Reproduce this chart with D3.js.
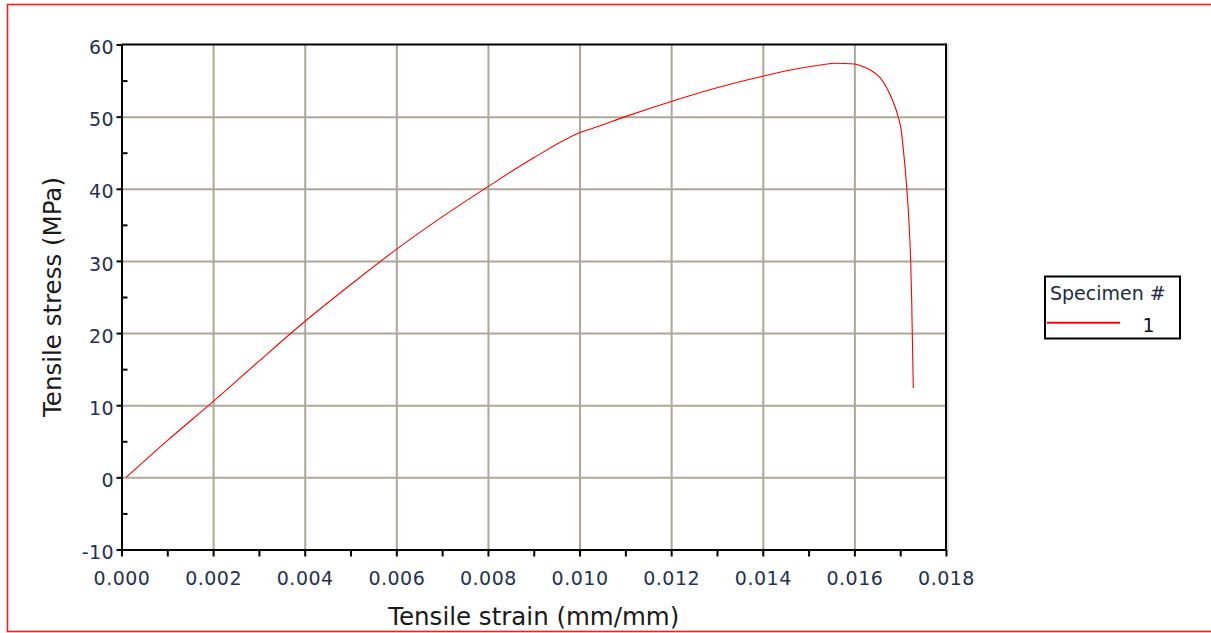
<!DOCTYPE html>
<html>
<head>
<meta charset="utf-8">
<script src="https://cdn.jsdelivr.net/npm/d3@7"></script>
<style>
  html, body { margin: 0; padding: 0; background: #fff; }
  svg { display: block; font-family: "DejaVu Sans", Verdana, sans-serif; }
</style>
</head>
<body>
<svg id="chart" width="1211" height="633"></svg>
<script>
// Tensile test, specimen 1: strain (mm/mm) vs stress (MPa)
const strain = [
  0.0001, 0.0010, 0.0020, 0.0030, 0.0040, 0.0050, 0.0060, 0.0070, 0.0080, 0.0090,
  0.0101, 0.01025, 0.0110, 0.0120, 0.0130, 0.0140, 0.0148, 0.0153, 0.0156, 0.0160,
  0.01620, 0.01634, 0.01656, 0.01673, 0.01683, 0.01696, 0.01702, 0.01707, 0.017142, 0.017192,
  0.017229, 0.017251, 0.017264, 0.017286
];
const stress = [
  0.0, 5.1, 10.5, 16.1, 21.6, 26.7, 31.6, 36.1, 40.3, 44.3,
  48.0, 48.3, 50.0, 52.1, 54.0, 55.6, 56.7, 57.2, 57.4, 57.3,
  56.9, 56.5, 55.4, 53.7, 52.3, 49.9, 48.2, 45.4, 40.2, 35.4,
  30.0, 24.6, 19.9, 12.4
];

const xMajorTicks = [0, 0.002, 0.004, 0.006, 0.008, 0.010, 0.012, 0.014, 0.016, 0.018];
const xMinorTicks = [0.001, 0.003, 0.005, 0.007, 0.009, 0.011, 0.013, 0.015, 0.017];
const yMajorTicks = [-10, 0, 10, 20, 30, 40, 50, 60];
const yMinorTicks = [-5, 5, 15, 25, 35, 45, 55];

const xTitle = "Tensile strain (mm/mm)";
const yTitle = "Tensile stress (MPa)";
const legendTitle = "Specimen #";
const seriesNames = ["1"];

const svg = d3.select("#chart");
const plotLeft = 121.5, plotRight = 946, plotTop = 44.5, plotBottom = 549.5;

const x = d3.scaleLinear().domain([0, 0.018]).range([plotLeft, plotRight]);
const y = d3.scaleLinear().domain([-10, 60]).range([plotBottom, plotTop]);

const gridColor = "#aca899";
const tickColor = "#24314f";

// outer red frame
svg.append("rect")
  .attr("x", 7.5).attr("y", 4.5)
  .attr("width", 1212).attr("height", 627)
  .attr("fill", "none").attr("stroke", "#ff1a1a").attr("stroke-width", 1.6);

// grid
svg.append("g")
  .attr("transform", `translate(0,${plotBottom})`)
  .call(d3.axisBottom(x).tickValues(xMajorTicks.slice(1, -1)).tickSize(-(plotBottom - plotTop)).tickFormat(""))
  .call(g => g.select(".domain").remove())
  .call(g => g.selectAll("line").attr("stroke", gridColor).attr("stroke-width", 2));
svg.append("g")
  .attr("transform", `translate(${plotLeft},0)`)
  .call(d3.axisLeft(y).tickValues(yMajorTicks.slice(1, -1)).tickSize(-(plotRight - plotLeft)).tickFormat(""))
  .call(g => g.select(".domain").remove())
  .call(g => g.selectAll("line").attr("stroke", gridColor).attr("stroke-width", 2));

// top and right frame edges
svg.append("line").attr("x1", plotLeft).attr("x2", plotRight + 1).attr("y1", plotTop).attr("y2", plotTop)
  .attr("stroke", "#000").attr("stroke-width", 2);
svg.append("line").attr("x1", plotRight + 2).attr("x2", plotRight + 2).attr("y1", plotTop).attr("y2", plotBottom)
  .attr("stroke", "#c8c8c8").attr("stroke-width", 1);
svg.append("line").attr("x1", plotRight).attr("x2", plotRight).attr("y1", plotTop - 1).attr("y2", plotBottom)
  .attr("stroke", "#000").attr("stroke-width", 2);

// curve
const pts = strain.map((s, i) => [s, stress[i]]);
svg.append("path")
  .datum(pts)
  .attr("fill", "none")
  .attr("stroke", "#ff0000")
  .attr("stroke-width", 1.1)
  .attr("stroke-linejoin", "round")
  .attr("d", d3.line().x(d => x(d[0])).y(d => y(d[1])).curve(d3.curveMonotoneX));

// x axis
svg.append("g").attr("transform", `translate(0,${plotBottom})`)
  .call(d3.axisBottom(x).tickValues(xMinorTicks).tickSizeInner(7).tickSizeOuter(0).tickFormat(""))
  .call(g => g.select(".domain").remove())
  .call(g => g.selectAll("line").attr("stroke", "#000").attr("stroke-width", 2));
const xMajor = svg.append("g").attr("transform", `translate(0,${plotBottom})`)
  .call(d3.axisBottom(x).tickValues(xMajorTicks).tickSizeInner(7).tickSizeOuter(0)
    .tickPadding(15).tickFormat(d3.format(".3f")));
xMajor.select(".domain").attr("stroke", "#000").attr("stroke-width", 2);
xMajor.selectAll("line").attr("stroke", "#000").attr("stroke-width", 2);
xMajor.selectAll("text").attr("fill", tickColor).attr("font-size", 19)
  .attr("letter-spacing", 0.5).attr("font-family", "DejaVu Sans");

// y axis
svg.append("g").attr("transform", `translate(${plotLeft},0)`)
  .call(d3.axisRight(y).tickValues(yMinorTicks).tickSizeInner(6).tickSizeOuter(0).tickFormat(""))
  .call(g => g.select(".domain").remove())
  .call(g => g.selectAll("line").attr("stroke", "#000").attr("stroke-width", 2));
const yMajor = svg.append("g").attr("transform", `translate(${plotLeft},0)`)
  .call(d3.axisLeft(y).tickValues(yMajorTicks).tickSizeInner(5).tickSizeOuter(0)
    .tickPadding(2.5).tickFormat(d => String(d)));
yMajor.select(".domain").attr("stroke", "#000").attr("stroke-width", 2);
yMajor.selectAll("line").attr("stroke", "#000").attr("stroke-width", 2);
yMajor.selectAll("text").attr("fill", tickColor).attr("font-size", 19)
  .attr("letter-spacing", 0.4).attr("dy", "0.48em").attr("font-family", "DejaVu Sans");

// axis titles
svg.append("text")
  .attr("x", (plotLeft + plotRight) / 2).attr("y", 625)
  .attr("text-anchor", "middle").attr("font-size", 24.5).attr("fill", "#1a1a1a")
  .text(xTitle);
svg.append("text")
  .attr("transform", `translate(61,${(plotTop + plotBottom) / 2}) rotate(-90)`)
  .attr("text-anchor", "middle").attr("font-size", 24.5).attr("fill", "#1a1a1a")
  .text(yTitle);

// legend
const lg = svg.append("g");
lg.append("rect").attr("x", 1045).attr("y", 276.5).attr("width", 135).attr("height", 62)
  .attr("fill", "#fff").attr("stroke", "#000").attr("stroke-width", 2);
lg.append("text").attr("x", 1050).attr("y", 300).attr("font-size", 19).attr("fill", "#1f2a44")
  .text(legendTitle);
seriesNames.forEach((name, i) => {
  const ly = 322.7 + i * 22;
  lg.append("line").attr("x1", 1047).attr("x2", 1120).attr("y1", ly).attr("y2", ly)
    .attr("stroke", "#ff0000").attr("stroke-width", 2);
  lg.append("text").attr("x", 1148.5).attr("y", ly + 9).attr("text-anchor", "middle")
    .attr("font-size", 19).attr("fill", "#111").text(name);
});
</script>
</body>
</html>
